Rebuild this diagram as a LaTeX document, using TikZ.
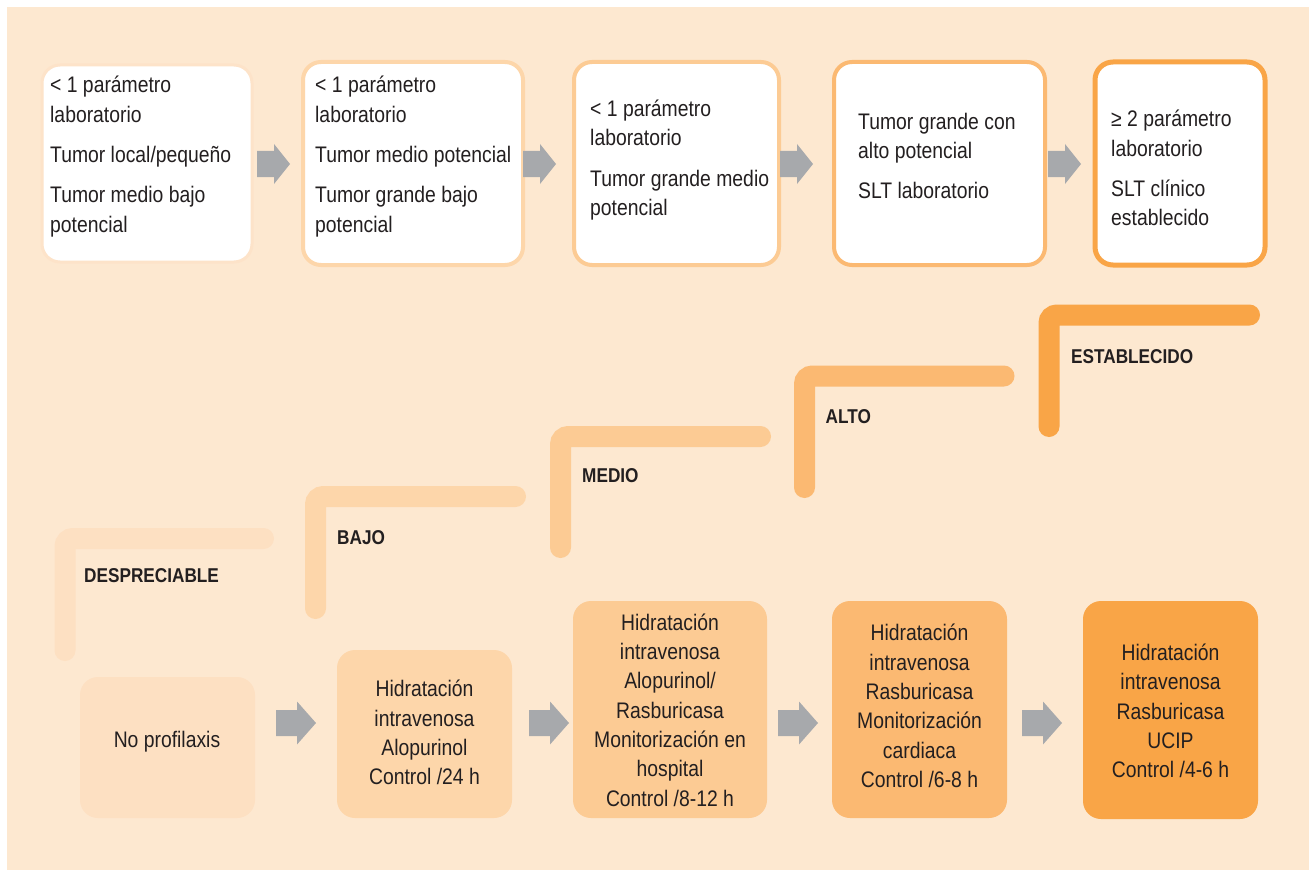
\documentclass[tikz,border=0pt]{standalone}
\usepackage{fontspec}
\setmainfont[FakeStretch=0.86]{Liberation Sans}
\definecolor{bgc}{HTML}{FDE8D0}
\definecolor{ca}{HTML}{FDE0C2}
\definecolor{cab}{HTML}{FDE3C9}
\definecolor{cb}{HTML}{FDD6AA}
\definecolor{cc}{HTML}{FCCB94}
\definecolor{cd}{HTML}{FBB972}
\definecolor{ce}{HTML}{F9A547}
\definecolor{agray}{HTML}{A7A9AC}
\definecolor{txt}{HTML}{231F20}
\tikzset{
  topbox/.style={draw, fill=white, rounded corners=18pt, line width=4pt, minimum height=203pt, inner sep=0pt},
  toptext/.style={anchor=west, align=left, inner sep=0pt, text=txt, font=\fontsize{22.5}{29.3}\selectfont},
  botbox/.style={rounded corners=18pt, inner sep=0pt},
  bottext/.style={align=center, inner sep=0pt, text=txt, font=\fontsize{22.5}{29.3}\selectfont},
  steplabel/.style={anchor=west, inner sep=0pt, text=txt, font=\fontsize{20}{24}\selectfont\bfseries},
  stepline/.style={line width=21pt, line cap=round, rounded corners=8pt},
  tarrow/.pic={\fill[agray] (0,-13) -- (17,-13) -- (17,-20) -- (33,0) -- (17,20) -- (17,13) -- (0,13) -- cycle;},
  barrow/.pic={\fill[agray] (0,-13) -- (21,-13) -- (21,-21.5) -- (40,0) -- (21,21.5) -- (21,13) -- (0,13) -- cycle;}
}
\begin{document}
\begin{tikzpicture}[x=1pt,y=-1pt]
\useasboundingbox (0,0) rectangle (1309,872);
\fill[bgc] (7,7) rectangle (1309,870);

% top boxes
\node[topbox, draw=cab, line width=3pt, minimum width=210pt, minimum height=197pt] (t1) at (147,163.5) {};
\node[topbox, draw=cb, minimum width=220pt] (t2) at (413,163.5) {};
\node[topbox, draw=cc, minimum width=205pt] (t3) at (676.5,163.5) {};
\node[topbox, draw=cd, minimum width=211pt] (t4) at (939.5,163.5) {};
\node[topbox, draw=ce, line width=5pt, minimum width=170pt] (t5) at (1180,163.5) {};

\node[toptext] (t1x) at (50,156.5) {< 1 parámetro\\laboratorio\\[11pt]Tumor local/pequeño\\[11pt]Tumor medio bajo\\potencial};
\node[toptext] (t2x) at (315,156.5) {< 1 parámetro\\laboratorio\\[11pt]Tumor medio potencial\\[11pt]Tumor grande bajo\\potencial};
\node[toptext] (t3x) at (590,160) {< 1 parámetro\\laboratorio\\[11pt]Tumor grande medio\\potencial};
\node[toptext] (t4x) at (858,156) {Tumor grande con\\alto potencial\\[11pt]SLT laboratorio};
\node[toptext] (t5x) at (1111,168) {≥ 2 parámetro\\laboratorio\\[11pt]SLT clínico\\establecido};

\pic at (257,164) {tarrow};
\pic at (523,164) {tarrow};
\pic at (780,164) {tarrow};
\pic at (1048,164) {tarrow};

% steps
\draw[stepline, ca] (65,650.5) -- (65,538.5) -- (263.5,538.5);
\draw[stepline, cb] (315.5,608.5) -- (315.5,496.5) -- (515.5,496.5);
\draw[stepline, cc] (560.5,547.5) -- (560.5,436.5) -- (760.5,436.5);
\draw[stepline, cd] (804.5,487.5) -- (804.5,376) -- (1004,376);
\draw[stepline, ce] (1049,426.5) -- (1049,315) -- (1249.5,315);

\node[steplabel] (l1) at (84,576) {DESPRECIABLE};
\node[steplabel] (l2) at (337,538) {BAJO};
\node[steplabel] (l3) at (582,476) {MEDIO};
\node[steplabel] (l4) at (825.5,417) {ALTO};
\node[steplabel] (l5) at (1071,357) {ESTABLECIDO};

% bottom boxes
\node[botbox, fill=ca, minimum width=175pt, minimum height=141pt] (b1) at (167.5,747.5) {};
\node[botbox, fill=cb, minimum width=175pt, minimum height=168pt] (b2) at (424.5,734) {};
\node[botbox, fill=cc, minimum width=194pt, minimum height=217pt] (b3) at (670,709.5) {};
\node[botbox, fill=cd, minimum width=175pt, minimum height=217pt] (b4) at (919.5,709.5) {};
\node[botbox, fill=ce, minimum width=175pt, minimum height=218pt] (b5) at (1170.5,710) {};

\node[bottext] (b1x) at (167,742) {No profilaxis};
\node[bottext] (b2x) at (424.5,732.5) {Hidratación\\intravenosa\\Alopurinol\\Control /24 h};
\node[bottext] (b3x) at (670,710) {Hidratación\\intravenosa\\Alopurinol/\\Rasburicasa\\Monitorización en\\hospital\\Control /8-12 h};
\node[bottext] (b4x) at (919.5,706) {Hidratación\\intravenosa\\Rasburicasa\\Monitorización\\cardiaca\\Control /6-8 h};
\node[bottext] (b5x) at (1170.5,711) {Hidratación\\intravenosa\\Rasburicasa\\UCIP\\Control /4-6 h};

\pic at (276,723) {barrow};
\pic at (529,723) {barrow};
\pic at (778,723) {barrow};
\pic at (1022,723) {barrow};
\end{tikzpicture}
\end{document}
